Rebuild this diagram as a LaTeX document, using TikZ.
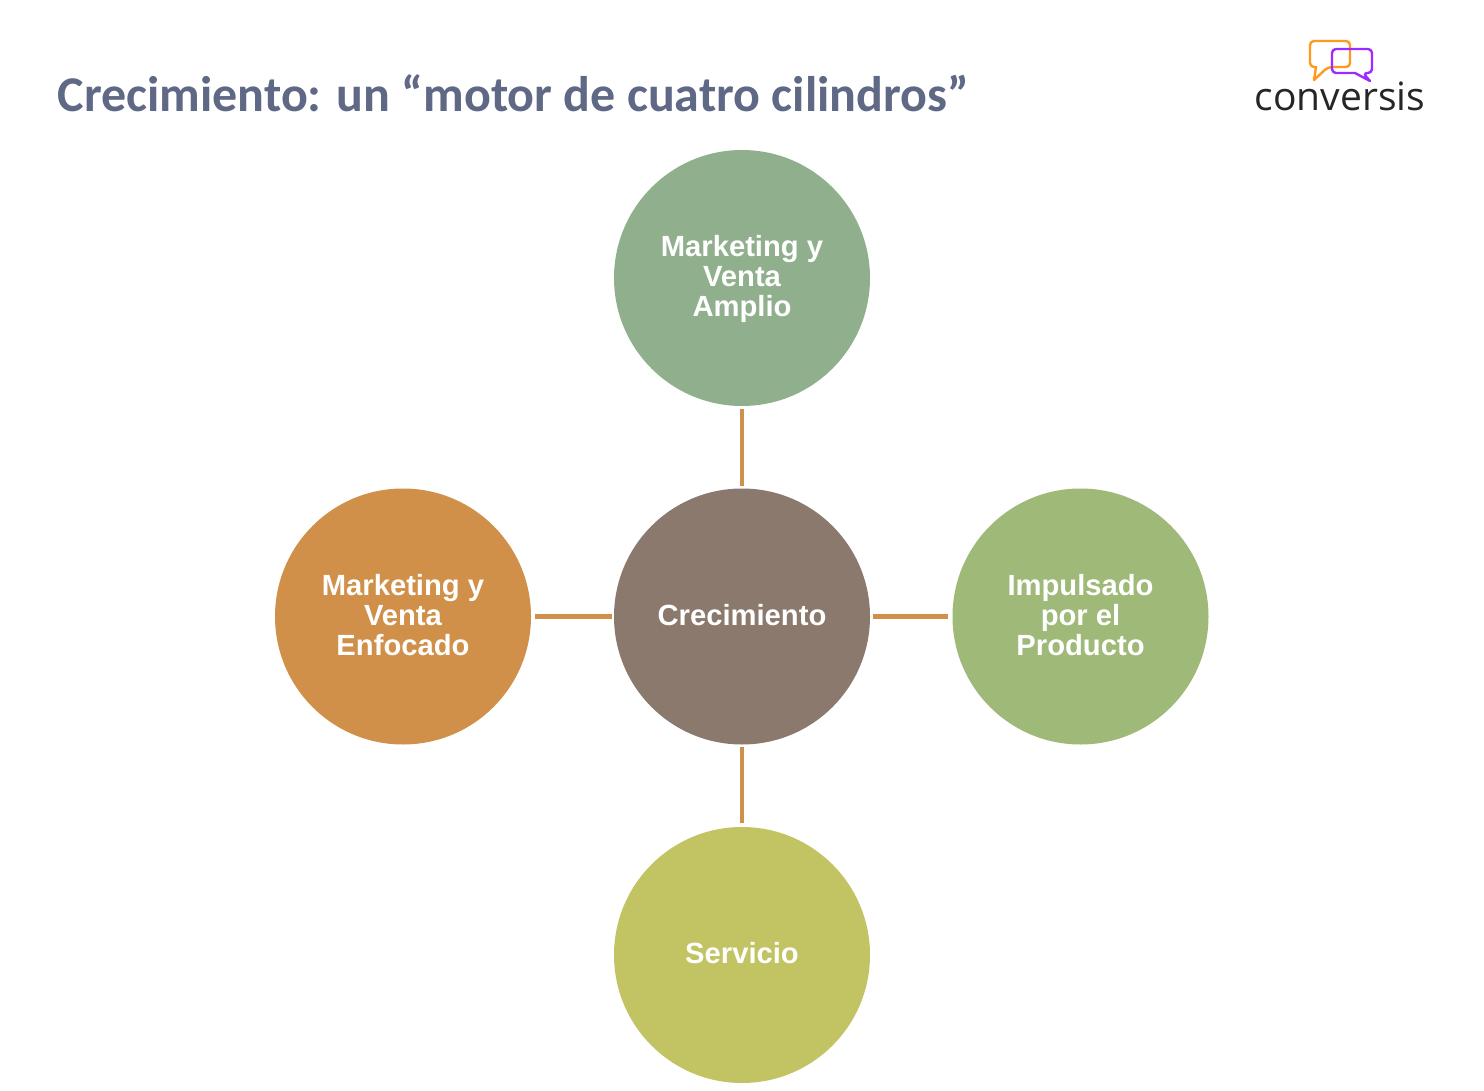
\documentclass[tikz,border=0pt]{standalone}
\usepackage{fontspec}
\setmainfont{Liberation Sans}
\newfontfamily\titlefont{Carlito}
\newfontfamily\logofont{Open Sans}
\definecolor{titlecol}{HTML}{5F6885}
\definecolor{linkcol}{HTML}{D09049}
\definecolor{hubcol}{HTML}{8B796D}
\definecolor{topcol}{HTML}{90AF8D}
\definecolor{leftcol}{HTML}{D09049}
\definecolor{rightcol}{HTML}{9EB978}
\definecolor{botcol}{HTML}{C2C362}
\definecolor{bubbleA}{HTML}{FF9A1F}
\definecolor{bubbleB}{HTML}{9B2BFF}
\newcommand{\lowdepth}{\rule[-3.5pt]{0pt}{0pt}}
\newcommand{\tallline}{\rule{0pt}{24pt}}
\tikzset{
  disc/.style={circle,draw=none,minimum size=256pt,inner sep=0pt,outer sep=0pt,text=white,
    align=center,font=\fontsize{29.2}{30}\selectfont\bfseries},
  link/.style={draw=linkcol,line width=4.4pt},
  bubble/.style={line width=2.4pt,line join=round,rounded corners=4pt}
}
\begin{document}
\begin{tikzpicture}[x=1pt,y=-1pt]
\useasboundingbox (0,0) rectangle (1484,1091);
\fill[white] (0,0) rectangle (1484,1091);
\node[anchor=base west,inner sep=0pt,text=titlecol,font=\fontsize{50}{52}\selectfont\titlefont\bfseries] (title) at (57.5,111.5) {Crecimiento: un “motor de cuatro cilindros”};
\node[disc,fill=hubcol] (hub) at (742,616.5) {Crecimiento\lowdepth};
\node[disc,fill=topcol] (top) at (742,278) {\tallline Marketing y\\Venta\\Amplio};
\node[disc,fill=leftcol] (left) at (403,616.5) {Marketing y\\Venta\\Enfocado\lowdepth};
\node[disc,fill=rightcol] (right) at (1080.5,616.5) {Impulsado\\por el\\Producto\lowdepth};
\node[disc,fill=botcol] (bot) at (742,955) {Servicio\lowdepth};
\draw[link,shorten <=3pt,shorten >=2.5pt] (top) -- (hub);
\draw[link,shorten <=3.5pt,shorten >=2.5pt] (left) -- (hub);
\draw[link,shorten <=2.5pt,shorten >=4.5pt] (hub) -- (right);
\draw[link,shorten <=2.5pt,shorten >=4pt] (hub) -- (bot);
\draw[bubble,draw=bubbleA] (1316,67) -- (1310,67) -- (1310,41) -- (1350,41) -- (1350,67) -- (1328,67) [sharp corners] -- (1314,80) -- cycle;
\draw[bubble,draw=bubbleB] (1355,73) -- (1332,73) -- (1332,49) -- (1372,49) -- (1372,73) -- (1363,73) [sharp corners] -- (1370,81) -- cycle;
\node[anchor=base,inner sep=0pt,text=black!85,font=\fontsize{39}{41}\selectfont\logofont] (logo) at (1340,110.5) {conversis};
\end{tikzpicture}
\end{document}
